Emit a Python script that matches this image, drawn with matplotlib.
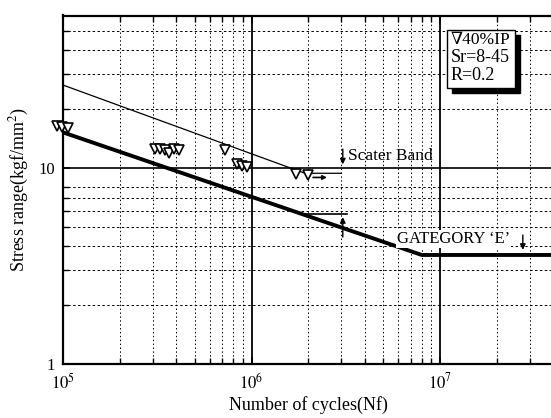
import matplotlib
matplotlib.use("Agg")
import matplotlib.pyplot as plt
from matplotlib.patches import Rectangle
from matplotlib.ticker import FixedLocator, NullFormatter

plt.rcParams['font.family'] = ['Liberation Serif', 'DejaVu Serif']
plt.rcParams['mathtext.fontset'] = 'stix'

# test results, 40% IP (open triangles)
cycles = [0.93e5, 0.99e5, 1.06e5, 3.08e5, 3.27e5, 3.48e5, 3.65e5, 3.88e5,
          4.12e5, 7.2e5, 8.4e5, 8.9e5, 9.5e5, 1.72e6, 2.0e6]
stress = [16.4, 16.2, 16.0, 12.5, 12.5, 12.4, 11.9, 12.5,
          12.4, 12.4, 10.5, 10.2, 10.1, 9.27, 9.16]

# upper bound of scatter band
upper_n = [1e5, 1.92e6, 3.0e6]
upper_s = [26.5, 9.4, 9.4]

# AASHTO category E design curve
cat_e_n = [1e5, 8e6, 4e7]
cat_e_s = [15.2, 3.6, 3.6]

# lower edge of band at 3e6
lower_n = [1.92e6, 3.2e6]
lower_s = [5.8, 5.8]

band_n = 3.05e6
band_up = (12.9, 10.1)    # arrow from, to
band_low = (4.3, 5.8)
runout_n = (2.05e6, 2.6e6)
runout_s = 8.95
cat_arrow_n = 2.75e7
cat_arrow_s = (4.7, 3.7)

x_minor = [m * 10**e for e in (5, 6) for m in range(2, 10)] + [2e7, 3e7]
y_minor = [2, 3, 4, 5, 6, 7, 8, 20, 30, 40, 50]

fig = plt.figure(figsize=(5.51, 4.18), dpi=100)
ax = fig.add_axes([63 / 551, 54 / 418, 490.5 / 551, 348.5 / 418])
ax.set_xscale('log')
ax.set_yscale('log')
ax.set_xlim(1e5, 4e7)
ax.set_ylim(1, 60)

# grid
for v in x_minor:
    ax.axvline(v, color='black', lw=0.7, ls=(0, (1.5, 2.5)), zorder=1)
for v in y_minor:
    ax.axhline(v, color='black', lw=0.7, ls=(0, (2.5, 2.5)), zorder=1)
for v in [1e6, 1e7]:
    ax.axvline(v, color='black', lw=1.3, zorder=1)
ax.axhline(10, color='black', lw=1.2, zorder=1)

ax.plot(upper_n, upper_s, color='black', lw=0.9, zorder=3)
ax.plot(cat_e_n, cat_e_s, color='black', lw=2.8, zorder=3, solid_capstyle='butt')
ax.plot(lower_n, lower_s, color='black', lw=1.2, zorder=3)
ax.plot(cycles, stress, ls='none', marker='v', ms=7, mfc='white',
        mec='black', mew=1.2, zorder=4, clip_on=False)

arrow = dict(arrowstyle='-|>', color='black', lw=1.0, mutation_scale=8)
ax.annotate('', xy=(band_n, band_up[1]), xytext=(band_n, band_up[0]), arrowprops=arrow)
ax.annotate('', xy=(band_n, band_low[1]), xytext=(band_n, band_low[0]), arrowprops=arrow)
ax.annotate('', xy=(runout_n[1], runout_s), xytext=(runout_n[0], runout_s),
            arrowprops=dict(arrowstyle='-|>', color='black', lw=1.2, mutation_scale=6))
ax.annotate('', xy=(cat_arrow_n, cat_arrow_s[1]), xytext=(cat_arrow_n, cat_arrow_s[0]),
            arrowprops=arrow)

ax.text(3.25e6, 11.5, 'Scater Band', fontsize=12.5, ha='left', va='center', zorder=5)
ax.text(5.9e6, 4.35, 'GATEGORY \u2018E\u2019', fontsize=12, ha='left', va='center',
        zorder=5, bbox=dict(fc='white', ec='none', pad=0.5))

ax.set_xticks([1e5, 1e6, 1e7])
ax.set_xticklabels([r'$10^5$', r'$10^6$', r'$10^7$'])
ax.set_yticks([1, 10])
ax.set_yticklabels(['1', '10'])
ax.xaxis.set_minor_locator(FixedLocator(x_minor))
ax.yaxis.set_minor_locator(FixedLocator(y_minor))
ax.xaxis.set_minor_formatter(NullFormatter())
ax.yaxis.set_minor_formatter(NullFormatter())
ax.tick_params(which='both', direction='in', top=True, right=False, labelsize=12, pad=6)
ax.tick_params(which='major', length=5, width=1.2)
ax.tick_params(which='minor', length=4, width=1.0)
for s in ['left', 'bottom', 'top']:
    ax.spines[s].set_linewidth(1.6)
ax.spines['right'].set_visible(False)

ax.set_xlabel('Number of cycles(Nf)', fontsize=13, labelpad=3)
ax.set_ylabel('Stress range(kgf/mm$^2$)', fontsize=13, labelpad=5)

# legend box with shadow
fig.add_artist(Rectangle((452 / 551, (418 - 93) / 418), 68 / 551, 58 / 418,
                         transform=fig.transFigure, fc='black', ec='black', zorder=10))
fig.add_artist(Rectangle((447 / 551, (418 - 88) / 418), 68 / 551, 58 / 418,
                         transform=fig.transFigure, fc='white', ec='black', lw=1.0, zorder=11))
fig.text(451 / 551, (418 - 40) / 418, '\u220740%IP', fontsize=12.5, va='center', zorder=12)
fig.text(451 / 551, (418 - 58) / 418, 'Sr=8-45', fontsize=13, va='center', zorder=12)
fig.text(451 / 551, (418 - 76) / 418, 'R=0.2', fontsize=13, va='center', zorder=12)

fig.savefig('out.png', dpi=100)
